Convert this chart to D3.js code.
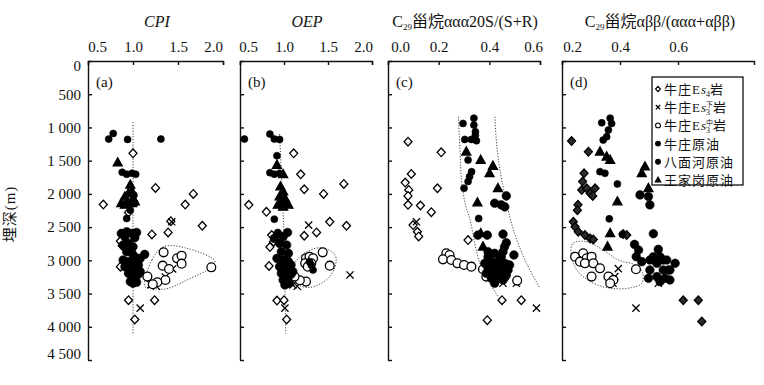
<!DOCTYPE html>
<html>
<head>
<meta charset="utf-8">
<script src="https://cdn.jsdelivr.net/npm/d3@7"></script>
<style>
  body { margin: 0; background: #fff; }
  svg text { font-family: "Liberation Serif", "Noto Sans CJK SC", serif; fill: #111; }
</style>
</head>
<body>
<div id="chart"></div>
<script>
// ---- tick labels ----
const depthTicks = [0, 500, 1000, 1500, 2000, 2500, 3000, 3500, 4000, 4500];
const cpiTicks = [0.5, 1.0, 1.5, 2.0];
const oepTicks = [0.5, 1.0, 1.5, 2.0];
const ster20sTicks = [0, 0.2, 0.4, 0.6];
const sterBbTicks = [0.2, 0.4, 0.6];

const legendLabels = ["牛庄Es4岩", "牛庄Es3下岩", "牛庄Es3中岩", "牛庄原油", "八面河原油", "王家岗原油"];

// ---- (a) CPI : [value, depth m] ----
const cpiEs4 = [[1.0,1390],[1.25,1910],[1.67,2000],[0.67,2160],[1.58,2160],[0.95,2280],[1.42,2410],[1.77,2480],[1.21,2610],[1.39,2580],[0.86,2710],[0.88,2780],[0.86,3095],[0.95,3600],[1.24,3600],[1.02,3890]];
const cpiEs3Lower = [[1.43,2420],[1.44,3130],[1.36,3250],[1.2,3370],[1.26,3390],[1.08,3720]];
const cpiEs3Middle = [[1.34,2880],[1.49,2970],[1.54,2930],[1.54,3050],[1.33,3080],[1.87,3105],[1.40,3130],[1.16,3245],[1.36,3296],[1.27,3330],[1.22,3360]];
const cpiNzOil = [[0.78,1090],[0.73,1175],[0.94,1180],[1.31,1175],[0.88,1675],[0.93,1705],[0.99,1690],[1.03,1705],[1.01,2020],[1.02,2140],[0.97,2245],[0.93,2370]];
const cpiBmhOil = [[0.87,2595],[0.93,2570],[0.99,2595],[1.04,2580],[0.91,2645],[1.02,2660],[0.89,2770],[0.95,2745],[1.0,2795],[0.93,2870],[0.99,2895],[1.13,2910],[1.08,2970],[1.02,2945],[0.89,2995],[0.95,3020],[1.0,3045],[1.06,3070],[0.91,3095],[0.97,3120],[1.02,3145],[1.08,3170],[0.95,3195],[1.0,3220],[1.06,3210],[0.99,3270],[1.02,3295],[0.97,3320],[1.04,3330],[1.0,3345]];
const cpiWjgOil = [[0.83,1530],[0.97,1865],[0.95,1990],[0.99,1965],[0.91,2040],[1.0,2065],[0.87,2140],[0.93,2115],[0.99,2140],[1.02,2115],[0.91,2165]];
const cpiTrend = [[1.0,920],[1.0,4120]];
const cpiLoop = [[1.13,3397],[1.21,2995],[1.34,2795],[1.6,2820],[1.91,3010],[1.88,3095],[1.6,3296],[1.36,3431],[1.17,3411]];

// ---- (b) OEP ----
const oepEs4 = [[1.11,1390],[1.19,1705],[1.23,1930],[1.68,1850],[1.45,2000],[0.60,2165],[0.80,2270],[1.52,2420],[1.71,2480],[1.37,2580],[1.23,2630],[0.86,2620],[0.88,2720],[0.84,2800],[0.83,3085],[0.92,3605],[1.0,3600],[1.03,3890]];
const oepEs3Lower = [[1.28,2470],[1.75,3220],[1.01,3720],[1.1,3370],[1.15,3390]];
const oepEs3Middle = [[1.44,2880],[1.52,3080],[1.25,3320],[1.18,3300],[1.12,3245],[1.25,2970],[1.29,2945],[1.33,2970],[1.24,3045],[1.31,3045],[1.27,3095]];
const oepNzOil = [[0.55,1175],[0.84,1100],[0.89,1175],[0.95,1180],[0.92,1425],[0.84,1680],[0.89,1705],[0.95,1690],[0.89,2380],[1.31,3070],[1.33,3145],[1.29,3020]];
const oepBmhOil = [[0.93,2595],[1.04,2580],[0.99,2645],[0.89,2670],[0.95,2745],[1.03,2770],[0.97,2870],[1.05,2895],[0.92,2970],[0.99,2995],[1.05,3020],[1.08,3070],[0.95,3095],[1.01,3120],[1.06,3145],[0.97,3195],[1.03,3220],[1.08,3210],[0.99,3295],[1.05,3320],[1.01,3370],[1.06,3345],[1.1,3170]];
const oepWjgOil = [[0.92,1565],[0.99,1705],[0.96,1890],[0.99,1965],[0.95,2040],[1.01,2065],[0.97,2125],[1.03,2140],[0.93,2165],[1.05,2165],[0.99,2195]];
const oepTrend = [[0.95,1100],[1.0,2600],[1.02,4100]];
const oepLoop = [[1.11,3095],[1.2,2920],[1.42,2810],[1.58,2920],[1.58,3095],[1.48,3296],[1.27,3410],[1.12,3320]];

// ---- (c) C29 sterane aaa 20S/(S+R) ----
const s20Es4 = [[0.079,1215],[0.21,1375],[0.092,1700],[0.068,1830],[0.082,1940],[0.079,2030],[0.079,2165],[0.128,2175],[0.195,1915],[0.171,2275],[0.099,2470],[0.116,2570],[0.121,2640],[0.316,2695],[0.476,3070],[0.45,3600],[0.526,3600],[0.392,3900]];
const s20Es3Lower = [[0.112,2420],[0.586,3720],[0.507,3345],[0.454,3345],[0.395,3250]];
const s20Es3Middle = [[0.23,2895],[0.243,2920],[0.217,2985],[0.25,2995],[0.274,3045],[0.30,3070],[0.329,3095],[0.375,3135],[0.388,3245],[0.51,3305],[0.46,3250]];
const s20NzOil = [[0.296,940],[0.339,860],[0.339,965],[0.345,1065],[0.345,1115],[0.303,1180],[0.329,1180],[0.349,1200],[0.316,1490],[0.33,1665],[0.322,1740],[0.316,1815],[0.30,1915],[0.358,2370]];
const s20BmhOil = [[0.467,2030],[0.421,2140],[0.447,2165],[0.461,2195],[0.355,2620],[0.392,2620],[0.454,2605],[0.467,2735],[0.46,2795],[0.497,2920],[0.395,2945],[0.421,2895],[0.447,2945],[0.382,3045],[0.408,3020],[0.434,3020],[0.461,3045],[0.395,3120],[0.421,3095],[0.447,3120],[0.474,3145],[0.388,3195],[0.414,3195],[0.441,3195],[0.467,3220],[0.408,3270],[0.434,3270],[0.454,3295],[0.421,3345],[0.395,2870],[0.454,2870],[0.48,3070]];
const s20WjgOil = [[0.309,1365],[0.366,1490],[0.414,1580],[0.401,1690],[0.434,1915],[0.353,2130],[0.366,2595],[0.375,2795]];
const s20BandLeft = [[0.278,840],[0.285,1400],[0.29,1790],[0.305,2150],[0.324,2390],[0.363,3045],[0.435,3550]];
const s20BandRight = [[0.422,840],[0.43,1300],[0.449,1790],[0.495,2540],[0.547,3045],[0.60,3420]];

// ---- (d) C29 sterane abb/(aaa+abb) ----
const bbEs4 = [[0.233,1205],[0.291,1365],[0.276,1690],[0.271,1815],[0.268,1940],[0.285,1915],[0.297,1990],[0.306,2030],[0.314,1915],[0.255,2165],[0.253,2245],[0.239,2420],[0.245,2495],[0.256,2570],[0.279,2620],[0.297,2670],[0.308,2685],[0.411,2605],[0.423,2620],[0.618,3600],[0.67,3600],[0.682,3920]];
const bbEs3Lower = [[0.394,3125],[0.382,3245],[0.376,3345],[0.532,3345],[0.455,3720]];
const bbEs3Middle = [[0.245,2945],[0.273,2895],[0.285,2970],[0.302,2945],[0.262,3020],[0.279,3045],[0.308,3045],[0.331,3120],[0.302,3245],[0.36,3245],[0.377,3295],[0.366,3345],[0.455,3135]];
const bbNzOil = [[0.337,930],[0.366,860],[0.371,940],[0.36,1040],[0.342,1190],[0.354,1140],[0.331,1665],[0.348,1690],[0.391,1850],[0.363,2375],[0.408,2610]];
const bbBmhOil = [[0.469,2015],[0.498,2040],[0.503,2165],[0.515,2600],[0.45,2760],[0.464,2845],[0.456,2945],[0.532,2835],[0.515,2945],[0.538,2945],[0.527,3045],[0.561,2995],[0.59,3045],[0.549,3145],[0.572,3145],[0.498,3270],[0.527,3245],[0.555,3270],[0.572,3295],[0.503,3145],[0.475,3020],[0.503,2995],[0.549,2995],[0.538,3320],[0.567,3145]];
const bbWjgOil = [[0.331,1365],[0.354,1440],[0.366,1490],[0.486,1590],[0.475,1690],[0.498,1915],[0.391,2115],[0.366,2595],[0.357,2795]];
const bbLoop = [[0.237,2745],[0.285,2720],[0.342,2845],[0.394,2995],[0.452,3070],[0.478,3195],[0.475,3345],[0.44,3410],[0.366,3420],[0.297,3320],[0.251,3145],[0.233,2945]];

// ---------------------------------------------------------------
const svg = d3.select('#chart').append('svg')
    .attr('width', 764)
    .attr('height', 385);

const y = d3.scaleLinear().domain([0, 4500]).range([61, 360]);
const depthFmt = d3.formatLocale({ decimal: '.', thousands: ' ', grouping: [3], currency: ['', ''] }).format(',');

const shapes = {
    diamond: 'M0,-4.3L4,0L0,4.3L-4,0Z',
    cross: 'M-3.6,-3.6L3.6,3.6M-3.6,3.6L3.6,-3.6',
    triangle: 'M0,-4.8L4.5,3.3L-4.5,3.3Z'
};

function drawMarks(g, x, data, kind, opt) {
    opt = opt || {};
    const sel = g.append('g').selectAll(null).data(data).enter();
    if (kind === 'open' || kind === 'dot') {
        sel.append('circle')
            .attr('cx', d => x(d[0]))
            .attr('cy', d => y(d[1]))
            .attr('r', opt.r || (kind === 'open' ? 4.4 : 3.8))
            .attr('fill', kind === 'open' ? '#fff' : '#000')
            .attr('stroke', '#000')
            .attr('stroke-width', kind === 'open' ? 1.3 : 0.6);
    } else {
        sel.append('path')
            .attr('transform', d => `translate(${x(d[0])},${y(d[1])})`)
            .attr('d', shapes[kind])
            .attr('fill', kind === 'cross' ? 'none' : (opt.fill || '#000'))
            .attr('stroke', '#000')
            .attr('stroke-width', 1.3);
    }
}

function dotted(g, x, pts, curve) {
    g.append('path')
        .datum(pts)
        .attr('d', d3.line().curve(curve).x(d => x(d[0])).y(d => y(d[1])))
        .attr('fill', 'none')
        .attr('stroke', '#444')
        .attr('stroke-width', 1)
        .attr('stroke-dasharray', '1.2,1.6');
}

const panels = [
    { tag: '(a)', left: 88, right: 223, domain: [0.5, 2.0], ticks: cpiTicks, nudge: [9, -10],
      es4: cpiEs4, lower: cpiEs3Lower, middle: cpiEs3Middle, nz: cpiNzOil, bmh: cpiBmhOil, wjg: cpiWjgOil,
      lines: [[cpiTrend, d3.curveLinear]], loops: [cpiLoop] },
    { tag: '(b)', left: 240, right: 372, domain: [0.5, 2.0], ticks: oepTicks, nudge: [8, -9],
      es4: oepEs4, lower: oepEs3Lower, middle: oepEs3Middle, nz: oepNzOil, bmh: oepBmhOil, wjg: oepWjgOil,
      lines: [[oepTrend, d3.curveLinear]], loops: [oepLoop] },
    { tag: '(c)', left: 388, right: 540, domain: [0, 0.6], ticks: ster20sTicks, nudge: [12, -7],
      es4: s20Es4, lower: s20Es3Lower, middle: s20Es3Middle, nz: s20NzOil, bmh: s20BmhOil, wjg: s20WjgOil,
      lines: [[s20BandLeft, d3.curveCatmullRom], [s20BandRight, d3.curveCatmullRom]], loops: [] },
    { tag: '(d)', left: 562, right: 754, domain: [0.2, 0.862], ticks: sterBbTicks, nudge: [10, 0],
      es4: bbEs4, lower: bbEs3Lower, middle: bbEs3Middle, nz: bbNzOil, bmh: bbBmhOil, wjg: bbWjgOil,
      lines: [], loops: [bbLoop], es4Fill: '#2a2a2a' }
];

panels.forEach((p, i) => {
    const x = d3.scaleLinear().domain(p.domain).range([p.left, p.right]);
    const g = svg.append('g');

    p.lines.forEach(l => dotted(g, x, l[0], l[1]));
    p.loops.forEach(l => dotted(g, x, l, d3.curveCatmullRomClosed.alpha(0.5)));

    drawMarks(g, x, p.es4, 'diamond', { fill: p.es4Fill || '#fff' });
    drawMarks(g, x, p.lower, 'cross');
    drawMarks(g, x, p.middle, 'open');
    drawMarks(g, x, p.nz, 'dot', { r: 3.5 });
    drawMarks(g, x, p.bmh, 'dot', { r: 4.3 });
    drawMarks(g, x, p.wjg, 'triangle');

    const top = g.append('g')
        .attr('transform', `translate(0,${y(0)})`)
        .call(d3.axisTop(x).tickValues(p.ticks).tickFormat(d3.format('.1f'))
            .tickSizeInner(-4).tickSizeOuter(-4).tickPadding(9));
    const n = p.ticks.length;
    top.selectAll('.tick text').attr('dx', (d, k) => k === 0 ? p.nudge[0] : (k === n - 1 ? p.nudge[1] : 0));

    const left = g.append('g')
        .attr('transform', `translate(${p.left},0)`)
        .call(d3.axisLeft(y).tickValues(depthTicks).tickFormat(i === 0 ? depthFmt : () => '')
            .tickSizeInner(-4).tickSizeOuter(0).tickPadding(7));
    left.selectAll('.tick text').attr('y', d => d === 0 ? 5 : (d === 4500 ? -6 : 0));

    [top, left].forEach(a => {
        a.attr('font-family', null).attr('font-size', null);
        a.selectAll('text').style('font-size', '15px').attr('fill', '#111');
        a.selectAll('path, line').attr('stroke', '#111').attr('stroke-width', 1.4);
    });

    g.append('text')
        .attr('x', p.left + 8)
        .attr('y', 87)
        .style('font-size', '15px')
        .text(p.tag);
});

// ---- titles ----
function title(x, parts, size) {
    const t = svg.append('text')
        .attr('x', x)
        .attr('y', 27)
        .attr('text-anchor', 'middle')
        .style('font-size', size + 'px');
    parts.forEach(pt => {
        const s = t.append('tspan').text(pt.t);
        if (pt.italic) s.style('font-style', 'italic');
        if (pt.size) s.style('font-size', pt.size + 'px');
        if (pt.dy) s.attr('dy', pt.dy);
    });
}
title(157, [{ t: 'CPI', italic: true }], 16);
title(307, [{ t: 'OEP', italic: true }], 16);
title(465, [{ t: 'C' }, { t: '29', size: 9, dy: 3 }, { t: '甾烷', dy: -3 }, { t: 'ααα20S/(S+R)' }], 16);
title(660, [{ t: 'C' }, { t: '29', size: 9, dy: 3 }, { t: '甾烷', dy: -3 }, { t: 'αββ/(ααα+αββ)' }], 16);

svg.append('text')
    .attr('transform', 'translate(15,214) rotate(-90)')
    .attr('text-anchor', 'middle')
    .style('font-size', '15px')
    .style('letter-spacing', '1px')
    .text('埋深(m)');

// ---- legend ----
const lg = svg.append('g');
lg.append('rect')
    .attr('x', 652).attr('y', 77)
    .attr('width', 91).attr('height', 108)
    .attr('fill', '#fff')
    .attr('stroke', '#111')
    .attr('stroke-width', 1.3);

const legendKinds = ['diamond', 'cross', 'open', 'dot', 'dot', 'triangle'];
const rowY = d3.scalePoint().domain(legendLabels).range([89, 180]);

legendLabels.forEach((lab, k) => {
    const cy = rowY(lab);
    const s = lg.append('g').attr('transform', `translate(658,${cy}) scale(0.6)`);
    const kind = legendKinds[k];
    if (kind === 'open' || kind === 'dot') {
        s.append('circle').attr('r', 4).attr('fill', kind === 'open' ? '#fff' : '#000')
            .attr('stroke', '#000').attr('stroke-width', 1.8);
    } else {
        s.append('path').attr('d', shapes[kind])
            .attr('fill', kind === 'cross' ? 'none' : (kind === 'diamond' ? '#fff' : '#000'))
            .attr('stroke', '#000').attr('stroke-width', 2);
    }

    const t = lg.append('text')
        .attr('x', 664)
        .attr('y', cy + 5)
        .style('font-size', '13px')
        .style('letter-spacing', '1px');
    const m = lab.match(/^(牛庄)E(s)(\d)(下|中)?(岩)$/);
    if (m) {
        t.append('tspan').text('牛庄E');
        t.append('tspan').style('font-style', 'italic').style('letter-spacing', '0px').text('s');
        if (m[4]) {
            t.append('tspan').style('font-size', '7px').style('letter-spacing', '0px').attr('dy', -5).text(m[4]);
            t.append('tspan').style('font-size', '8px').style('letter-spacing', '0px').attr('dx', -7).attr('dy', 8).text(m[3]);
            t.append('tspan').attr('dx', 3).attr('dy', -3).text('岩');
        } else {
            t.append('tspan').style('font-size', '8px').style('letter-spacing', '0px').attr('dy', 3).text(m[3]);
            t.append('tspan').attr('dy', -3).text('岩');
        }
    } else {
        t.text(lab);
    }
});
</script>
</body>
</html>
